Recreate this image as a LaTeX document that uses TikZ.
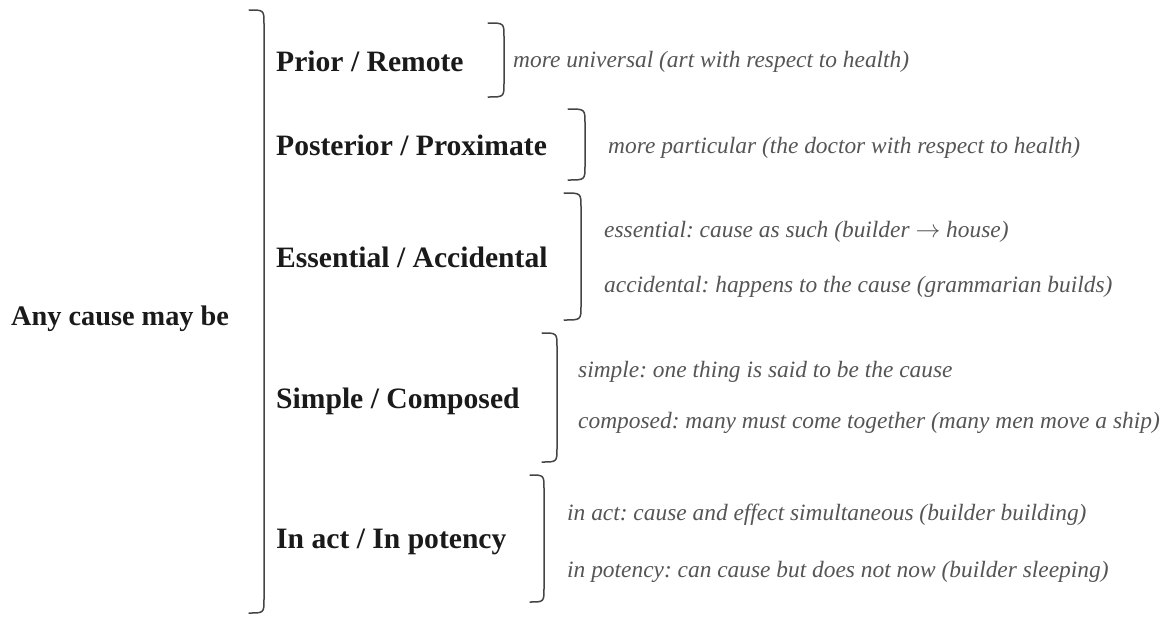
\documentclass[tikz,border=0pt]{standalone}
\usepackage{fontspec}
\setmainfont{Liberation Serif}
\frenchspacing
\definecolor{headc}{HTML}{1A1A1A}
\definecolor{notec}{HTML}{555555}
\definecolor{brc}{HTML}{444444}
\begin{document}
\begin{tikzpicture}[x=1pt,y=-1pt,
  head/.style={anchor=base west,inner sep=0pt,text=headc,font=\fontsize{29.6}{34}\selectfont\bfseries},
  note/.style={anchor=base west,inner sep=0pt,text=notec,font=\fontsize{23.4}{28}\selectfont\itshape},
  brk/.style={draw=brc,line width=1.5pt,line cap=round}]
\useasboundingbox (0,0) rectangle (1167,616);
% brackets: #1 line x, #2 hook x, #3 top, #4 bottom
\newcommand\bracketR[4]{\draw[brk] (#2,#3) .. controls (#1,#3) .. (#1,#3+14) -- (#1,#4-14) .. controls (#1,#4) .. (#2,#4);}
\node[head,font=\fontsize{28.3}{34}\selectfont\bfseries] (root) at (11,325) {Any cause may be};
\bracketR{264}{249}{10}{613}
\node[head] (p1) at (276,71) {Prior / Remote};
\node[head] (p2) at (276,155) {Posterior / Proximate};
\node[head] (p3) at (276,267) {Essential / Accidental};
\node[head] (p4) at (276,408) {Simple / Composed};
\node[head] (p5) at (276,548) {In act / In potency};
\bracketR{504}{488}{23}{97}
\bracketR{585}{568}{109}{180}
\bracketR{581}{564}{193}{320}
\bracketR{557}{542}{333}{462}
\bracketR{544}{530}{475}{602}
\node[note] (d1) at (513,67) {more universal (art with respect to health)};
\node[note] (d2) at (608,153) {more particular (the doctor with respect to health)};
\node[note] (d3a) at (604,237) {essential: cause as such (builder $\rightarrow$ house)};
\node[note] (d3b) at (604,292) {accidental: happens to the cause (grammarian builds)};
\node[note] (d4a) at (578,377) {simple: one thing is said to be the cause};
\node[note] (d4b) at (578,428) {composed: many must come together (many men move a ship)};
\node[note] (d5a) at (567,520) {in act: cause and effect simultaneous (builder building)};
\node[note] (d5b) at (567,577) {in potency: can cause but does not now (builder sleeping)};
\end{tikzpicture}
\end{document}
